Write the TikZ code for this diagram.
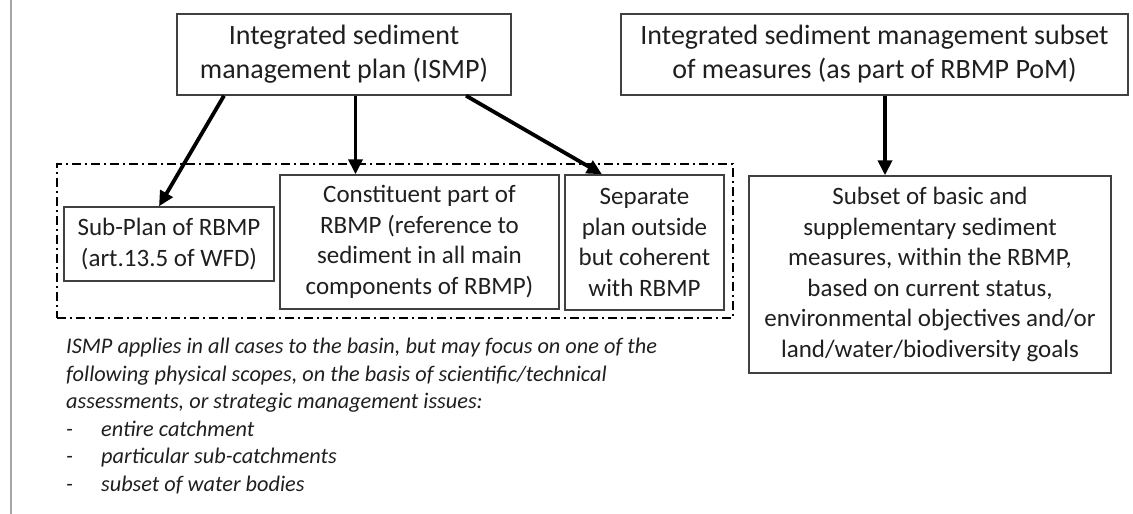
\documentclass[tikz,border=0pt]{standalone}
\usepackage{fontspec}
\setmainfont{Carlito}
\usetikzlibrary{arrows.meta,calc}
\begin{document}
\begin{tikzpicture}[x=1pt,y=-1pt,
  box/.style={draw=black!75, line width=1.4pt, align=center, inner sep=0pt, text=black!88},
  headbox/.style={box, font=\fontsize{28}{34}\selectfont},
  subbox/.style={box, font=\fontsize{25}{30.5}\selectfont},
  link/.style={line width=3.8pt, -{Triangle[length=15pt,width=14pt]}},
  groupframe/.style={draw, line width=2.2pt, dash pattern=on 9pt off 4pt on 2pt off 4pt}
]
\useasboundingbox (0,0) rectangle (1133,514);
% page edge on the left
\draw[black!35, line width=2pt] (10.5,0) -- (10.5,514);

% top row
\node[headbox, minimum width=334pt, minimum height=81pt] (A) at (344,54.5)
  {Integrated sediment\\management plan (ISMP)};
\node[headbox, minimum width=507pt, minimum height=81pt] (B) at (874.5,54.5)
  {Integrated sediment management subset\\of measures (as part of RBMP PoM)};

% dash-dotted group of the three ISMP options
\node[groupframe, minimum width=676pt, minimum height=154pt, inner sep=0pt] (grp) at (395,241) {};

\node[subbox, minimum width=210pt, minimum height=74pt] (E) at (169,244)
  {Sub-Plan of RBMP\\(art.13.5 of WFD)};
\node[subbox, minimum width=279pt, minimum height=134pt] (F) at (419.5,242)
  {Constituent part of\\RBMP (reference to\\sediment in all main\\components of RBMP)};
\node[subbox, minimum width=159pt, minimum height=135pt] (G) at (644.5,242.5)
  {Separate\\plan outside\\but coherent\\with RBMP};

\node[subbox, minimum width=362pt, minimum height=197pt] (D) at (930,274.5)
  {Subset of basic and\\supplementary sediment\\measures, within the RBMP,\\based on current status,\\environmental objectives and/or\\land/water/biodiversity goals};

% connectors
\draw[link] ([xshift=-120pt]A.south) -- ([xshift=-10pt]E.north);
\draw[link] ([xshift=11.5pt]A.south) -- ([xshift=-64pt]F.north);
\draw[link] ([xshift=122pt]A.south) -- ([xshift=-42.5pt]G.north);
\draw[link] ([xshift=10.5pt]B.south) -- ([xshift=-45pt]D.north);

% explanatory note
\node[anchor=north west, inner sep=0pt, align=left, text=black!88,
      font=\fontsize{22.3}{27.5}\selectfont\itshape] (note) at (66,338)
  {ISMP applies in all cases to the basin, but may focus on one of the\\
   following physical scopes, on the basis of scientific/technical\\
   assessments, or strategic management issues:\\
   \makebox[35pt][l]{-}entire catchment\\
   \makebox[35pt][l]{-}particular sub-catchments\\
   \makebox[35pt][l]{-}subset of water bodies};
\end{tikzpicture}
\end{document}
